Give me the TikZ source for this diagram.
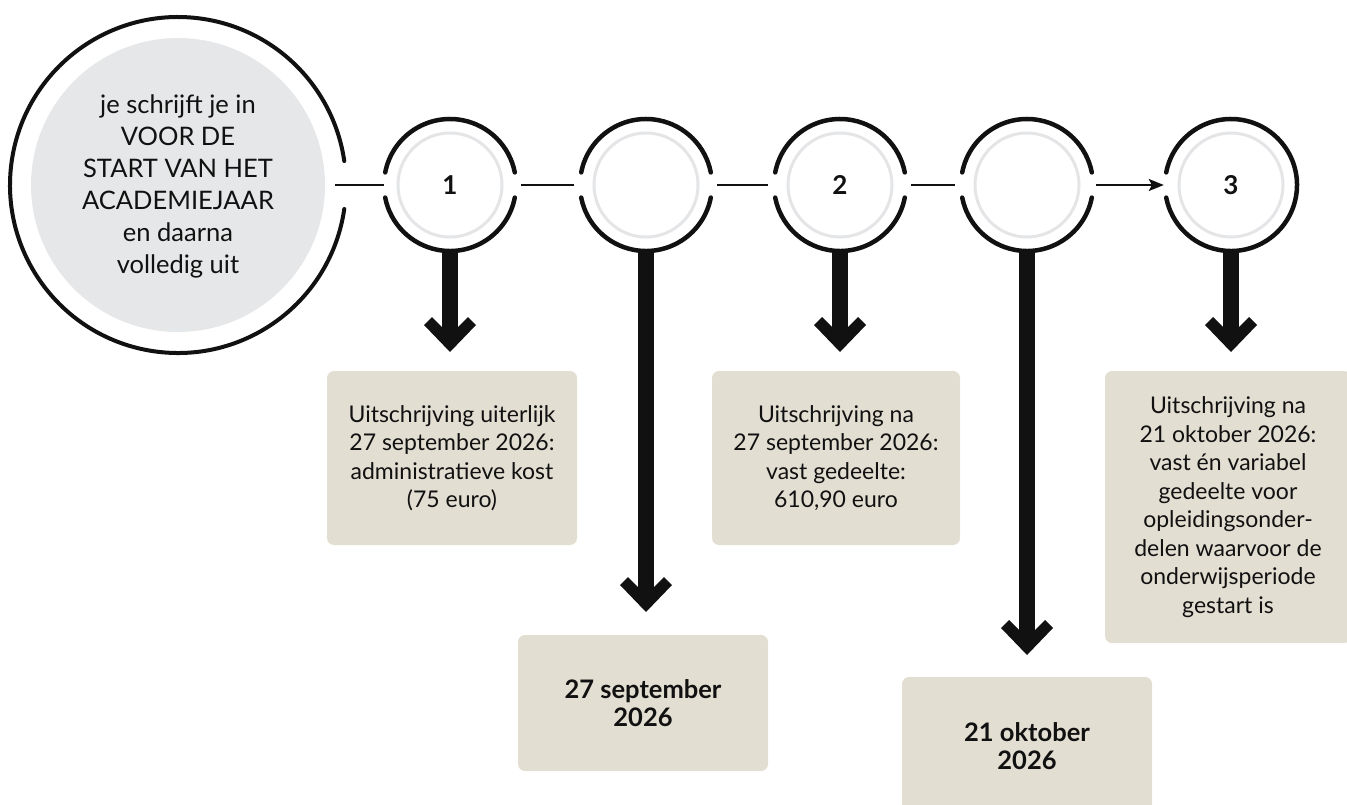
\documentclass[tikz,border=0pt]{standalone}
\usepackage{fontspec}
\setmainfont{Lato}
\usetikzlibrary{arrows.meta}
\definecolor{boxbeige}{HTML}{E3DED2}
\definecolor{fillgray}{HTML}{E6E7E8}
\definecolor{ringgray}{HTML}{E4E5E7}
\definecolor{ink}{HTML}{111111}
\tikzset{
  chev/.pic={\fill[ink] (0,17) -- (-26,-10) -- (-18,-18) -- (0,0) -- (18,-18) -- (26,-10) -- cycle;}
}
\begin{document}
\begin{tikzpicture}[x=1pt,y=-1pt,
  stepcircle/.style={circle, minimum size=132pt, inner sep=0pt, text=ink, font=\bfseries\fontsize{26}{28}\selectfont},
  bigcircle/.style={circle, minimum size=336pt, inner sep=0pt, align=center, text=ink, font=\fontsize{25.5}{32}\selectfont},
  infobox/.style={fill=boxbeige, rounded corners=7pt, align=center, inner sep=0pt, text=ink, font=\fontsize{23}{28.5}\selectfont},
  datebox/.style={infobox, font=\bfseries\fontsize{25.5}{28}\selectfont},
  conn/.style={draw=ink, line width=1.7pt},
  stem/.style={draw=ink, line width=16pt},
  outerarc/.style={draw=ink, line width=4.5pt, line cap=round},
  bigarc/.style={draw=ink, line width=4pt, line cap=round},
  ring/.style={draw=ringgray, line width=3pt},
]
\useasboundingbox (0,0) rectangle (1347,804);
\clip (0,0) rectangle (1347,804);

% big start circle
\fill[fillgray] (178,185) circle[radius=147];
\node[bigcircle] (big) at (178,186) {je schrijft je in\\VOOR DE\\START VAN HET\\ACADEMIEJAAR\\en daarna\\volledig uit};
\draw[bigarc] ([shift={(8.2:168)}]178,185) arc[start angle=8.2, end angle=351.8, radius=168];

% step circles
\node[stepcircle] (c1) at (450,185) {1};
\node[stepcircle] (c2) at (646,185) {};
\node[stepcircle] (c3) at (840,185) {2};
\node[stepcircle] (c4) at (1027,185) {};
\node[stepcircle] (c5) at (1231,185) {3};

\foreach \c in {c1,c2,c3,c4}{
  \draw[ring] (\c.center) circle[radius=52];
  \draw[outerarc] ([shift={(191:66)}]\c.center) arc[start angle=191, end angle=349, radius=66];
  \draw[outerarc] ([shift={(11:66)}]\c.center) arc[start angle=11, end angle=169, radius=66];
}
\draw[ring] (c5.center) circle[radius=52];
\draw[outerarc] ([shift={(191:66)}]c5.center) arc[start angle=191, end angle=529, radius=66];

% horizontal connectors
\draw[conn, shorten <=-11pt] (big.east |- c1.west) -- (c1.west);
\draw[conn, shorten <=5pt, shorten >=6pt] (c1.east) -- (c2.west);
\draw[conn, shorten <=5pt, shorten >=6pt] (c2.east) -- (c3.west);
\draw[conn, shorten <=5pt, shorten >=6pt] (c3.east) -- (c4.west);
\draw[conn, shorten <=3pt, shorten >=1pt, -{Stealth[length=15pt,width=12pt,inset=3pt]}] (c4.east) -- (c5.west);

% downward arrows
\coordinate (s1) at (450,335);
\coordinate (s2) at (646,595);
\coordinate (s3) at (840,335);
\coordinate (s4) at (1027,638);
\coordinate (s5) at (1231,335);
\draw[stem] (c1.south) -- (s1);
\draw[stem] (c2.south) -- (s2);
\draw[stem] (c3.south) -- (s3);
\draw[stem] (c4.south) -- (s4);
\draw[stem] (c5.south) -- (s5);
\pic at (s1) {chev};
\pic at (s2) {chev};
\pic at (s3) {chev};
\pic at (s4) {chev};
\pic at (s5) {chev};

% boxes
\node[infobox, minimum width=250pt, minimum height=174pt] (b1) at (452,458)
  {Uitschrijving uiterlijk\\27 september 2026:\\administratieve kost\\(75 euro)};
\node[infobox, minimum width=248pt, minimum height=174pt] (b2) at (836,458)
  {Uitschrijving na\\27 september 2026:\\vast gedeelte:\\610,90 euro};
\node[infobox, minimum width=246pt, minimum height=272pt] (b3) at (1228,507)
  {Uitschrijving na\\21 oktober 2026:\\vast én variabel\\gedeelte voor\\opleidingsonder-\\delen waarvoor de\\onderwijsperiode\\gestart is};
\node[datebox, minimum width=250pt, minimum height=136pt] (b4) at (643,703)
  {27 september\\2026};
\node[datebox, minimum width=250pt, minimum height=138pt] (b5) at (1027,746)
  {21 oktober\\2026};
\end{tikzpicture}
\end{document}
